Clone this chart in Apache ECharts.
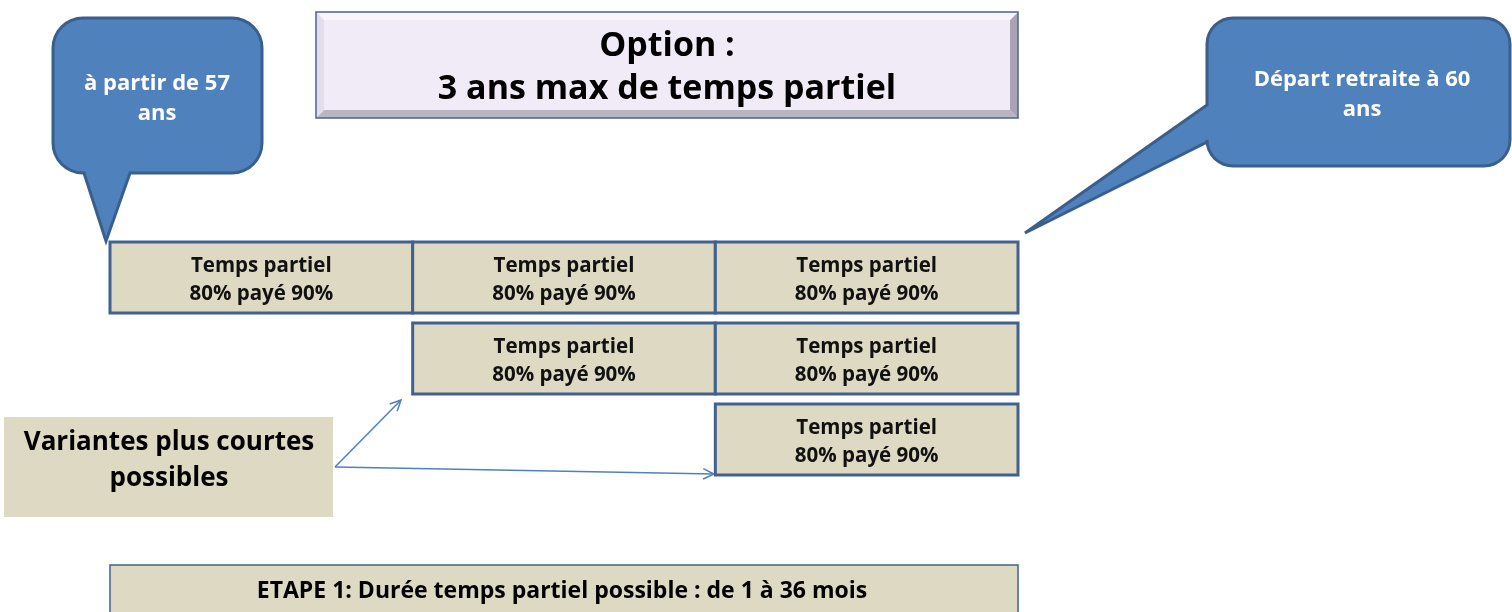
<!DOCTYPE html>
<html><head><meta charset="utf-8">
<script src="https://cdn.jsdelivr.net/npm/echarts@6/dist/echarts.min.js"></script>
<style>html,body{margin:0;padding:0;background:#fff}#c{width:1512px;height:612px}</style>
</head><body><div id="c"></div>
<script>
// ---- data ----
const ages = [57, 58, 59, 60];
const rows = ['Variante 3 ans', 'Variante 2 ans', 'Variante 1 an'];
const segRow = [0, 0, 0, 1, 1, 2];
const segStart = [57, 58, 59, 58, 59, 59];
const segEnd = [58, 59, 60, 59, 60, 60];
const segLine1 = 'Temps partiel';
const segLine2 = '80% payé 90%';
const titleLines = ['Option :', '3 ans max de temps partiel'];
const startNote = ['à partir de 57', 'ans'];
const endNote = ['Départ retraite à 60', 'ans'];
const variantNote = ['Variantes plus courtes', 'possibles'];
const stepNote = 'ETAPE 1: Durée temps partiel possible : de 1 à 36 mois';

const FONT = '"Open Sans", Lato, sans-serif';
const BORDER = '#41628F';
const TAN = '#DDD9C3';
const BLUE = '#4F81BD';

function corner(cx, cy, r, a0, a1) {
  const pts = [];
  const n = 8;
  for (let i = 0; i <= n; i++) {
    const a = a0 + (a1 - a0) * i / n;
    pts.push([cx + r * Math.cos(a), cy + r * Math.sin(a)]);
  }
  return pts;
}
function callout(x0, y0, x1, y1, r, tail) {
  const P = Math.PI;
  let pts = [];
  pts = pts.concat(corner(x1 - r, y0 + r, r, -P / 2, 0));
  pts = pts.concat(corner(x1 - r, y1 - r, r, 0, P / 2));
  if (tail.side === 'bottom') {
    pts.push([tail.b, y1], tail.tip, [tail.a, y1]);
  }
  pts = pts.concat(corner(x0 + r, y1 - r, r, P / 2, P));
  if (tail.side === 'left') {
    pts.push([x0, tail.b], tail.tip, [x0, tail.a]);
  }
  pts = pts.concat(corner(x0 + r, y0 + r, r, P, 1.5 * P));
  return pts;
}

function arrowHead(from, to, len, ang) {
  const a = Math.atan2(to[1] - from[1], to[0] - from[0]);
  const p1 = [to[0] - len * Math.cos(a - ang), to[1] - len * Math.sin(a - ang)];
  const p2 = [to[0] - len * Math.cos(a + ang), to[1] - len * Math.sin(a + ang)];
  return [p1, to, p2];
}

const segData = segRow.map((r, i) => [r, segStart[i], segEnd[i]]);

const chart = echarts.init(document.getElementById('c'), null, {renderer: 'canvas'});

const arrowFrom = [335, 467];
const arrowTo1 = [401, 400];
const arrowTo2 = [714, 474];

const option = {
  animation: false,
  backgroundColor: '#ffffff',
  grid: {left: 110, right: 494, top: 237, height: 243, containLabel: false},
  xAxis: {type: 'value', min: ages[0], max: ages[ages.length - 1], interval: 1, show: false},
  yAxis: {type: 'category', data: rows, inverse: true, show: false},
  series: [{
    type: 'custom',
    data: segData,
    encode: {x: [1, 2], y: 0},
    renderItem: function (params, api) {
      const r = api.value(0), s = api.value(1), e = api.value(2);
      const p0 = api.coord([s, r]);
      const p1 = api.coord([e, r]);
      const bandH = api.size([0, 1])[1];
      const h = bandH - 10;
      return {
        type: 'group',
        children: [
          {type: 'rect', shape: {x: p0[0], y: p0[1] - h / 2, width: p1[0] - p0[0], height: h},
            style: {fill: TAN, stroke: BORDER, lineWidth: 3}},
          {type: 'text', style: {text: segLine1 + '\n' + segLine2, x: (p0[0] + p1[0]) / 2, y: p0[1] + 3,
            align: 'center', verticalAlign: 'middle', font: 'bold 20.5px ' + FONT, lineHeight: 28, fill: '#111'}}
        ]
      };
    }
  }],
  graphic: [
    // title box with bevel
    {type: 'rect', shape: {x: 316, y: 12, width: 702, height: 106}, style: {fill: '#F1EBF8', stroke: null}},
    {type: 'polygon', shape: {points: [[316, 118], [1018, 118], [1010, 110], [324, 110]]}, style: {fill: '#B9B5C2'}},
    {type: 'polygon', shape: {points: [[1018, 12], [1018, 118], [1010, 110], [1010, 20]]}, style: {fill: '#A8A4B4'}},
    {type: 'polygon', shape: {points: [[316, 12], [1018, 12], [1010, 20], [324, 20]]}, style: {fill: '#F8F5FC'}},
    {type: 'polygon', shape: {points: [[316, 12], [324, 20], [324, 110], [316, 118]]}, style: {fill: '#E4DEEC'}},
    {type: 'rect', shape: {x: 316, y: 12, width: 702, height: 106}, style: {fill: null, stroke: '#4A6491', lineWidth: 1.5}},
    {type: 'text', style: {text: titleLines.join('\n'), x: 667, y: 68, align: 'center', verticalAlign: 'middle',
      textAlign: 'center', textVerticalAlign: 'middle', font: 'bold 34px ' + FONT, lineHeight: 43, fill: '#000'}},

    // left callout
    {type: 'polygon', shape: {points: callout(53, 18, 262, 173, 30, {side: 'bottom', a: 84, b: 130, tip: [106, 241]})},
      style: {fill: BLUE, stroke: '#3A5F8C', lineWidth: 3}},
    {type: 'text', style: {text: startNote.join('\n'), x: 157, y: 99, align: 'center', verticalAlign: 'middle',
      textAlign: 'center', textVerticalAlign: 'middle', font: 'bold 22px ' + FONT, lineHeight: 30, fill: '#fff'}},

    // right callout
    {type: 'polygon', shape: {points: callout(1207, 18, 1510, 166, 26, {side: 'left', a: 105, b: 142, tip: [1025, 233]})},
      style: {fill: BLUE, stroke: '#3A5F8C', lineWidth: 3}},
    {type: 'text', style: {text: endNote.join('\n'), x: 1362, y: 95, align: 'center', verticalAlign: 'middle',
      textAlign: 'center', textVerticalAlign: 'middle', font: 'bold 22px ' + FONT, lineHeight: 30, fill: '#fff'}},

    // variantes box
    {type: 'rect', shape: {x: 4, y: 417, width: 329, height: 100}, style: {fill: TAN}},
    {type: 'text', style: {text: variantNote.join('\n'), x: 169, y: 461, align: 'center', verticalAlign: 'middle',
      textAlign: 'center', textVerticalAlign: 'middle', font: 'bold 26px ' + FONT, lineHeight: 36, fill: '#000'}},

    // arrows
    {type: 'polyline', shape: {points: [arrowFrom, arrowTo1]}, style: {stroke: BLUE, lineWidth: 1.5, fill: null}},
    {type: 'polyline', shape: {points: arrowHead(arrowFrom, arrowTo1, 12, 0.45)}, style: {stroke: BLUE, lineWidth: 1.5, fill: null}},
    {type: 'polyline', shape: {points: [arrowFrom, arrowTo2]}, style: {stroke: BLUE, lineWidth: 1.5, fill: null}},
    {type: 'polyline', shape: {points: arrowHead(arrowFrom, arrowTo2, 12, 0.45)}, style: {stroke: BLUE, lineWidth: 1.5, fill: null}},

    // bottom step box
    {type: 'rect', shape: {x: 110, y: 565, width: 908, height: 60}, style: {fill: TAN, stroke: BORDER, lineWidth: 1.5}},
    {type: 'text', style: {text: stepNote, x: 562, y: 591, align: 'center', verticalAlign: 'middle',
      textAlign: 'center', textVerticalAlign: 'middle', font: 'bold 23px ' + FONT, fill: '#000'}}
  ]
};
chart.setOption(option);
</script>
</body></html>
